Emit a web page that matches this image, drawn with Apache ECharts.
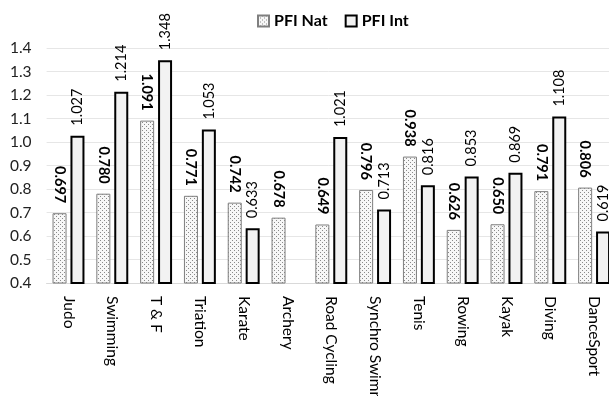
<!DOCTYPE html>
<html><head><meta charset="utf-8">
<script src="https://cdn.jsdelivr.net/npm/echarts@6/dist/echarts.min.js"></script>
<style>html,body{margin:0;padding:0;background:#fff}#c{width:609px;height:396px}</style>
</head><body><div id="c"></div>
<script>
const categories = ['Judo','Swimming','T & F','Triation','Karate','Archery','Road Cycling','Synchro Swimming','Tenis','Rowing','Kayak','Diving','DanceSport'];
const pfiNat = [0.697,0.780,1.091,0.771,0.742,0.678,0.649,0.796,0.938,0.626,0.650,0.791,0.806];
const pfiInt = [1.027,1.214,1.348,1.053,0.633,null,1.021,0.713,0.816,0.853,0.869,1.108,0.619];
const yTicks = [0.4,0.5,0.6,0.7,0.8,0.9,1.0,1.1,1.2,1.3,1.4];

const pc = document.createElement('canvas');
pc.width = 4; pc.height = 4;
const g = pc.getContext('2d');
g.fillStyle = '#f7f7f7'; g.fillRect(0,0,4,4);
g.fillStyle = '#8a8a8a'; g.fillRect(0,0,1,1); g.fillRect(2,2,1,1);

const FONT = 'Lato';
const chart = echarts.init(document.getElementById('c'), null, {renderer:'canvas'});
chart.setOption({
  animation:false,
  textStyle:{fontFamily:FONT},
  legend:{
    top:8, left:252, itemWidth:11, itemHeight:11, itemGap:17,
    textStyle:{fontFamily:FONT, fontWeight:'bold', fontSize:16, color:'#000'},
    data:[{name:'PFI Nat', icon:'rect'},{name:'PFI Int', icon:'rect'}]
  },
  grid:{left:46.6, top:48, width:569.4, height:235, outerBoundsMode:'none', containLabel:false},
  xAxis:{
    type:'category', data:categories,
    axisLine:{lineStyle:{color:'#d9d9d9'}},
    axisTick:{show:false},
    axisLabel:{rotate:-90, margin:13, fontSize:15.5, color:'#000', fontFamily:FONT, interval:0}
  },
  yAxis:{
    type:'value', min:yTicks[0], max:yTicks[yTicks.length-1], interval:0.1,
    axisLine:{show:false}, axisTick:{show:false},
    splitLine:{lineStyle:{color:'#e6e6e6'}},
    axisLabel:{margin:15, fontSize:15.5, color:'#222', fontFamily:FONT, formatter:v=>v.toFixed(1)}
  },
  series:[
    {name:'PFI Nat', type:'bar', data:pfiNat, barWidth:14, barGap:'28%',
     itemStyle:{color:{image:pc, repeat:'repeat'}, borderColor:'#7f7f7f', borderWidth:1},
     label:{show:true, position:'top', rotate:-90, align:'right', verticalAlign:'middle', distance:10,
       fontWeight:'bold', fontSize:14.5, color:'#000', fontFamily:FONT, formatter:p=>p.value.toFixed(3)}},
    {name:'PFI Int', type:'bar', data:pfiInt, barWidth:14,
     itemStyle:{color:'#f2f2f2', borderColor:'#000', borderWidth:2},
     label:{show:true, position:'top', rotate:90, align:'left', verticalAlign:'middle', distance:10,
       fontSize:14.5, color:'#000', fontFamily:FONT, formatter:p=>p.value==null?'':p.value.toFixed(3)}}
  ]
});
</script></body></html>
